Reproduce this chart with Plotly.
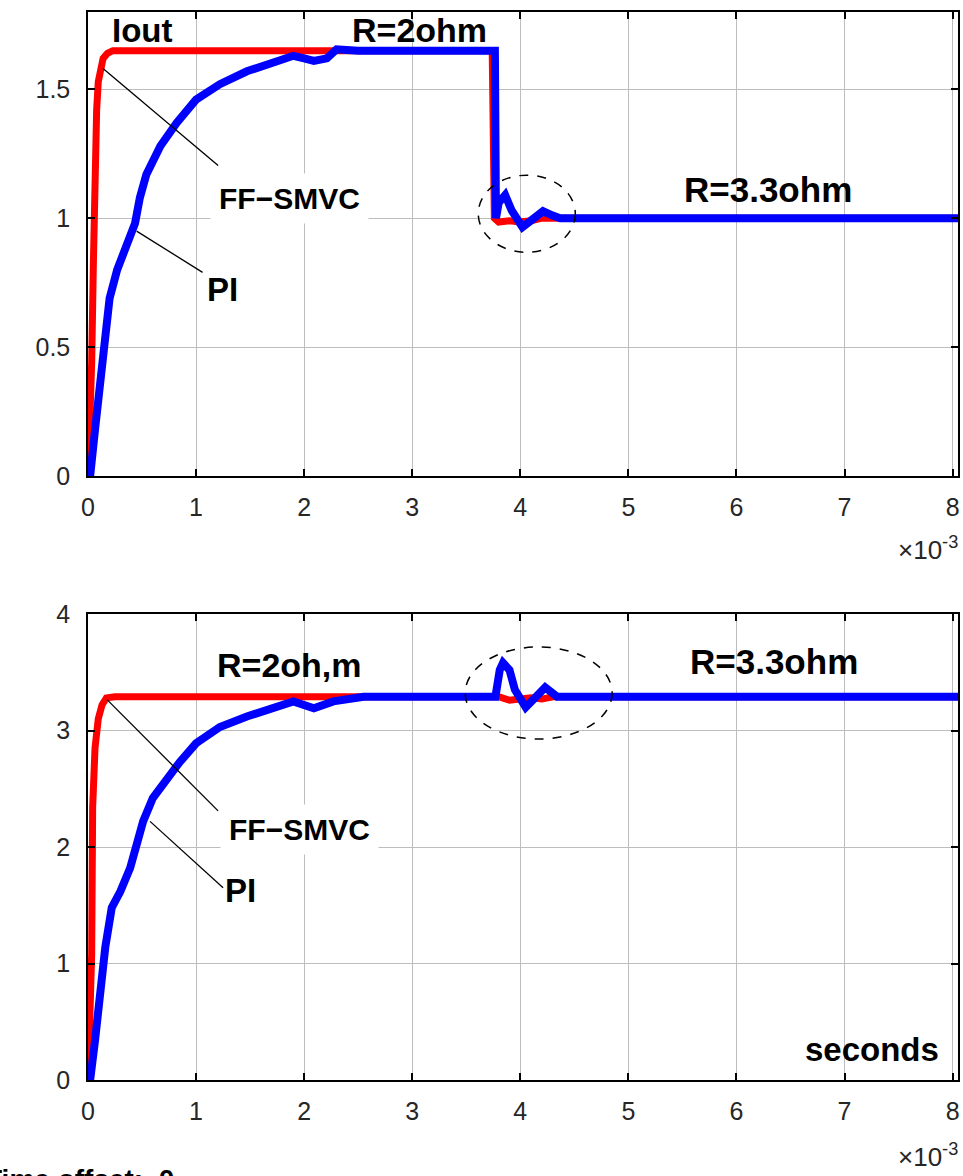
import plotly.graph_objects as go

# ---------------- data (time in units of 1e-3 s) ----------------
t_iout_ff = [0, 0.02, 0.034, 0.05, 0.065, 0.08, 0.095, 0.12, 0.14, 0.18, 0.23, 0.5, 1.0, 2.0, 3.0,
             3.74, 3.76, 3.8, 3.9, 4.0, 4.1, 4.2, 4.3, 5, 6, 7, 8.05]
i_ff = [0, 0.2, 0.44, 0.83, 1.21, 1.42, 1.53, 1.59, 1.62, 1.64, 1.65, 1.65, 1.65, 1.65, 1.65,
        1.65, 1.0, 0.985, 0.99, 0.985, 0.99, 1.0, 1.0, 1.0, 1.0, 1.0, 1.0]

t_iout_pi = [0, 0.02, 0.065, 0.11, 0.16, 0.2, 0.27, 0.36, 0.435, 0.48, 0.54, 0.67, 0.82, 1.0, 1.22,
             1.47, 1.71, 1.9, 2.0, 2.09, 2.21, 2.3, 2.5, 3.0, 3.5, 3.765, 3.775, 3.8, 3.86, 3.92,
             4.02, 4.1, 4.21, 4.3, 4.37, 5, 6, 7, 8.05]
i_pi = [0, 0.0, 0.18, 0.37, 0.57, 0.69, 0.80, 0.89, 0.98, 1.08, 1.17, 1.28, 1.37, 1.46, 1.52,
        1.57, 1.60, 1.63, 1.62, 1.61, 1.62, 1.655, 1.65, 1.65, 1.65, 1.65, 1.0, 1.06, 1.09, 1.03,
        0.965, 0.99, 1.027, 1.01, 1.0, 1.0, 1.0, 1.0, 1.0]

t_vout_ff = [0, 0.02, 0.034, 0.043, 0.065, 0.095, 0.13, 0.17, 0.25, 1, 2, 3, 3.8, 3.9, 4.0, 4.1,
             4.2, 4.3, 5, 6, 7, 8.05]
v_ff = [0, 0.6, 1.08, 2.34, 2.85, 3.1, 3.22, 3.28, 3.29, 3.29, 3.29, 3.29, 3.29, 3.26, 3.27, 3.28,
        3.27, 3.29, 3.29, 3.29, 3.29, 3.29]

t_vout_pi = [0, 0.02, 0.065, 0.11, 0.16, 0.22, 0.30, 0.39, 0.45, 0.51, 0.6, 0.73, 0.85, 1.0, 1.22,
             1.47, 1.71, 1.9, 2.09, 2.27, 2.55, 3.0, 3.5, 3.77, 3.81, 3.84, 3.9, 3.95, 4.05, 4.13,
             4.23, 4.34, 5, 6, 7, 8.05]
v_pi = [0, 0, 0.34, 0.71, 1.14, 1.48, 1.62, 1.82, 2.05, 2.22, 2.42, 2.59, 2.73, 2.89, 3.03,
        3.12, 3.19, 3.25, 3.19, 3.25, 3.29, 3.29, 3.29, 3.29, 3.52, 3.58, 3.52, 3.35, 3.2, 3.28,
        3.37, 3.29, 3.29, 3.29, 3.29, 3.29]

x_ticks = [0, 1, 2, 3, 4, 5, 6, 7, 8]
iout_ticks = [0, 0.5, 1, 1.5]
iout_tick_text = ["0", "0.5", "1", "1.5"]
vout_ticks = [0, 1, 2, 3, 4]

RED = "#ff0000"
BLUE = "#0000ff"
FONT = "Liberation Sans, Arial, sans-serif"

fig = go.Figure()
fig.add_trace(go.Scatter(x=t_iout_ff, y=i_ff, mode="lines", line=dict(color=RED, width=7),
                         xaxis="x", yaxis="y", showlegend=False))
fig.add_trace(go.Scatter(x=t_iout_pi, y=i_pi, mode="lines", line=dict(color=BLUE, width=8),
                         xaxis="x", yaxis="y", showlegend=False))
fig.add_trace(go.Scatter(x=t_vout_ff, y=v_ff, mode="lines", line=dict(color=RED, width=7),
                         xaxis="x2", yaxis="y2", showlegend=False))
fig.add_trace(go.Scatter(x=t_vout_pi, y=v_pi, mode="lines", line=dict(color=BLUE, width=8),
                         xaxis="x2", yaxis="y2", showlegend=False))

W, H = 963, 1176
xdom = [88 / W, 958 / W]
ydom_top = [1 - 476 / H, 1 - 12 / H]
ydom_bot = [1 - 1080 / H, 1 - 614 / H]

axis_common = dict(showline=True, mirror="ticks", linecolor="black", linewidth=1.5,
                   ticks="inside", ticklen=7, tickcolor="black", tickwidth=1.5,
                   showgrid=True, gridcolor="#bdbdbd", gridwidth=1.2, zeroline=False,
                   automargin=False,
                   tickfont=dict(family=FONT, size=25, color="#262626"))

fig.update_layout(
    width=W, height=H, margin=dict(l=0, r=0, t=0, b=0, autoexpand=False),
    paper_bgcolor="white", plot_bgcolor="white",
    xaxis=dict(domain=xdom, range=[0, 8.05], tickvals=x_ticks, anchor="y",
               ticklabelstandoff=8, **axis_common),
    yaxis=dict(domain=ydom_top, range=[0, 1.8], tickvals=iout_ticks, ticktext=iout_tick_text,
               anchor="x", ticklabelstandoff=11, **axis_common),
    xaxis2=dict(domain=xdom, range=[0, 8.05], tickvals=x_ticks, anchor="y2",
                ticklabelstandoff=8, **axis_common),
    yaxis2=dict(domain=ydom_bot, range=[0, 4], tickvals=vout_ticks, anchor="x2",
                ticklabelstandoff=11, **axis_common),
)

# pointer lines and ellipses (annotation graphics)
pointer_lines = [
    ("x", "y", 0.139, 1.581, 1.204, 1.205),
    ("x", "y", 0.45, 0.95, 1.06, 0.79),
    ("x2", "y2", 0.176, 3.265, 1.204, 2.31),
    ("x2", "y2", 0.574, 2.22, 1.25, 1.65),
]
for xr, yr, x0, y0, x1, y1 in pointer_lines:
    fig.add_shape(type="line", xref=xr, yref=yr, x0=x0, y0=y0, x1=x1, y1=y1,
                  line=dict(color="black", width=1.3))

ellipses = [
    ("x", "y", 3.611, 0.868, 4.509, 1.167),
    ("x2", "y2", 3.49, 2.927, 4.85, 3.717),
]
for xr, yr, x0, y0, x1, y1 in ellipses:
    fig.add_shape(type="circle", xref=xr, yref=yr, x0=x0, y0=y0, x1=x1, y1=y1,
                  line=dict(color="black", width=1.5, dash="dash"))

def txt(text, x, y, xref, yref, size, xanchor="center", bg=None, pad=1, bold=True, yanchor="middle"):
    fig.add_annotation(text=f"<b>{text}</b>" if bold else text, x=x, y=y, xref=xref, yref=yref,
                       showarrow=False, xanchor=xanchor, yanchor=yanchor,
                       font=dict(family=FONT, size=size, color="black"),
                       bgcolor=bg if bg else "rgba(0,0,0,0)", borderpad=pad)

# top panel texts
txt("Iout", 0.2, 1.73, "x", "y", 33, xanchor="left")
txt("R=2ohm", 3.07, 1.73, "x", "y", 34)
txt("R=3.3ohm", 6.29, 1.11, "x", "y", 35)
txt("FF−SMVC", 1.86, 1.078, "x", "y", 30, bg="white", pad=8)
txt("PI", 1.24, 0.725, "x", "y", 33)
# bottom panel texts
txt("VOUT", 0.0, 4.12, "x2", "y2", 33, xanchor="left")
txt("R=2oh,m", 1.86, 3.56, "x2", "y2", 34)
txt("R=3.3ohm", 6.35, 3.59, "x2", "y2", 35)
txt("FF−SMVC", 1.96, 2.15, "x2", "y2", 30, bg="white", pad=8)
txt("PI", 1.41, 1.63, "x2", "y2", 33)
txt("seconds", 7.89, 0.26, "x2", "y2", 33, xanchor="right")

# exponent labels
for ypix in (548, 1155):
    fig.add_annotation(text="×10<sup>-3</sup>", x=960 / W, y=1 - ypix / H, xref="paper", yref="paper",
                       showarrow=False, xanchor="right", yanchor="middle",
                       font=dict(family=FONT, size=26, color="#262626"))

fig.add_annotation(text="<b>Time offset:  0</b>", x=-17 / W, y=1 - 1162 / H, xref="paper", yref="paper",
                   showarrow=False, xanchor="left", yanchor="top",
                   font=dict(family=FONT, size=28, color="black"))

fig.write_html("out.html")
